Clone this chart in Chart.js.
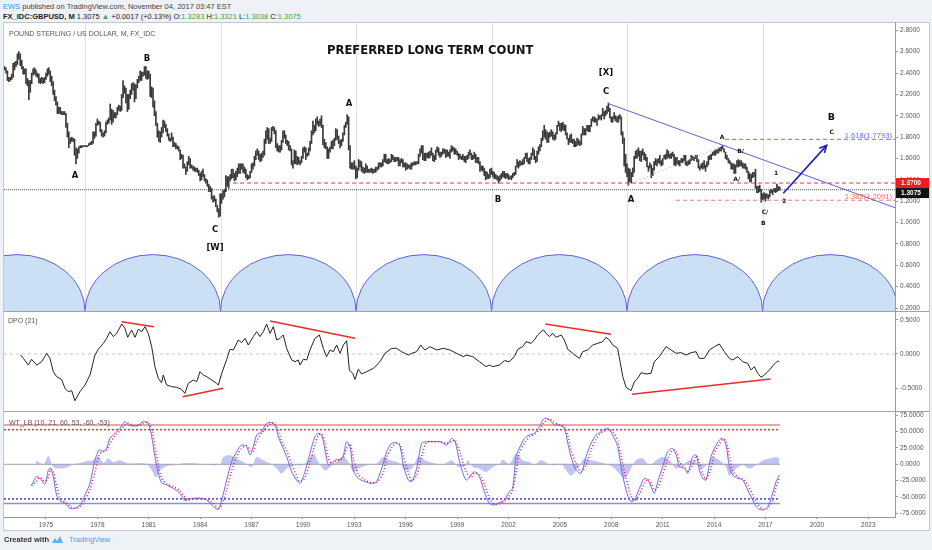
<!DOCTYPE html>
<html>
<head>
<meta charset="utf-8">
<script src="https://cdn.jsdelivr.net/npm/chart.js@4.4.1/dist/chart.umd.min.js"></script>
<style>
  body { margin: 0; width: 932px; height: 550px; background: #eef1f6; position: relative; overflow: hidden;
         font-family: "Liberation Sans", Arial, sans-serif; }
  .abs { position: absolute; white-space: nowrap; }
  .g { color: #3aa64a; }
  #frame { left: 3px; top: 22px; width: 925px; height: 507px; background: #fff; border: 1px solid #c4c7cc; }
  canvas { position: absolute; }
  .sep { position: absolute; left: 4px; width: 925px; height: 1px; background: #a3a3a3; }
</style>
</head>
<body>
<div class="abs" style="left:3px;top:2px;font-size:7.5px;color:#444"><span style="color:#2f9ad8">EWS</span> published on TradingView.com, November 04, 2017 03:47 EST</div>
<div class="abs" style="left:3px;top:12px;font-size:7.5px;color:#222"><b>FX_IDC:GBPUSD, M</b> 1.3075 <span class="g">&#9650;</span> +0.0017 (+0.13%) O:<span class="g">1.3283</span> H:<span class="g">1.3321</span> L:<span class="g">1.3038</span> C:<span class="g">1.3075</span></div>
<div id="frame" class="abs"></div>
<canvas id="mainChart" width="925" height="289" style="left:4px;top:22px;width:925px;height:289px"></canvas>
<canvas id="dpoChart" width="925" height="100" style="left:4px;top:311px;width:925px;height:100px"></canvas>
<canvas id="wtChart" width="925" height="119" style="left:4px;top:411px;width:925px;height:119px"></canvas>
<div class="sep" style="top:311px"></div>
<div class="sep" style="top:411px"></div>
<div class="abs" style="left:9px;top:30px;font-size:7px;color:#555">POUND STERLING / US DOLLAR, M, FX_IDC</div>
<div class="abs" style="left:327px;top:43px;font-family:'DejaVu Sans',sans-serif;font-weight:bold;font-size:11.6px;color:#111">PREFERRED LONG TERM COUNT</div>
<div class="abs" style="left:8px;top:317px;font-size:7px;color:#555">DPO (21)</div>
<div class="abs" style="left:9px;top:419px;font-size:7px;color:#555">WT_LB (10, 21, 60, 53, -60, -53)</div>
<div class="abs" style="left:4px;top:535px;font-size:7.5px;color:#333;font-weight:bold">Created with</div>
<svg class="abs" style="left:51px;top:535px" width="13" height="9" viewBox="0 0 13 9"><path d="M1 8 L4 3 L6 6 L9 1 L12 8 Z" fill="#5db3e6"/></svg>
<div class="abs" style="left:69px;top:535px;font-size:7.5px;color:#4aa3df">TradingView</div>

<script>
// ---- axes ----
const X_MIN = 1972.55;
const X_MAX = 2024.56;
const AXIS_W = 34;
const yearTicks = [1975, 1978, 1981, 1984, 1987, 1990, 1993, 1996, 1999, 2002, 2005, 2008, 2011, 2014, 2017, 2020, 2023];
const priceTicks = [2.8, 2.6, 2.4, 2.2, 2.0, 1.8, 1.6, 1.4, 1.2, 1.0, 0.8, 0.6, 0.4, 0.2];
const dpoTicks = [0.5, 0, -0.5];
const wtTicks = [75, 50, 25, 0, -25, -50, -75];

// ---- monthly GBPUSD bars, first bar July 1972 ----
const priceStart = 1972.5;
const priceLow = [
  2.43,2.43,2.40,2.33,2.32,2.33,
  2.34,2.36,2.43,2.46,2.48,2.53,2.47,2.44,2.39,2.39,2.30,2.28,
  2.15,2.22,2.30,2.38,2.39,2.37,2.36,2.31,2.30,2.31,2.30,2.31,
  2.34,2.37,2.39,2.32,2.28,2.20,2.14,2.10,2.02,2.02,2.02,2.01,
  2.01,2.01,1.89,1.80,1.70,1.74,1.76,1.76,1.63,1.55,1.60,1.65,
  1.70,1.70,1.71,1.71,1.71,1.71,1.72,1.73,1.73,1.74,1.79,1.81,
  1.91,1.92,1.85,1.81,1.80,1.81,1.84,1.92,1.93,1.96,1.92,1.94,
  1.98,1.98,2.01,2.05,2.04,2.05,2.17,2.21,2.12,2.04,2.06,2.16,
  2.20,2.24,2.13,2.16,2.26,2.31,2.33,2.33,2.37,2.38,2.35,2.34,
  2.35,2.18,2.17,2.08,2.00,1.91,1.80,1.76,1.75,1.80,1.84,1.89,
  1.85,1.81,1.77,1.76,1.77,1.71,1.71,1.69,1.69,1.67,1.59,1.60,
  1.51,1.51,1.45,1.48,1.54,1.51,1.51,1.49,1.48,1.48,1.47,1.44,
  1.39,1.40,1.43,1.39,1.37,1.34,1.29,1.29,1.22,1.19,1.20,1.15,
  1.10,1.05,1.06,1.18,1.22,1.24,1.29,1.34,1.32,1.39,1.41,1.42,
  1.39,1.40,1.43,1.46,1.46,1.50,1.47,1.46,1.42,1.40,1.41,1.42,
  1.47,1.50,1.53,1.59,1.63,1.59,1.57,1.58,1.61,1.63,1.74,1.78,
  1.74,1.74,1.76,1.86,1.83,1.70,1.67,1.66,1.66,1.68,1.75,1.79,
  1.74,1.72,1.68,1.67,1.54,1.51,1.55,1.55,1.54,1.55,1.54,1.56,
  1.60,1.66,1.59,1.62,1.63,1.67,1.74,1.82,1.84,1.86,1.92,1.90,
  1.91,1.89,1.73,1.70,1.69,1.60,1.60,1.66,1.69,1.69,1.72,1.77,
  1.78,1.74,1.70,1.72,1.76,1.82,1.89,1.92,1.68,1.51,1.50,1.50,
  1.50,1.41,1.42,1.49,1.52,1.48,1.47,1.46,1.47,1.47,1.47,1.47,
  1.47,1.46,1.47,1.47,1.49,1.50,1.52,1.52,1.53,1.57,1.56,1.55,
  1.55,1.56,1.57,1.59,1.57,1.57,1.58,1.53,1.53,1.56,1.52,1.52,
  1.49,1.50,1.51,1.50,1.50,1.53,1.54,1.54,1.55,1.55,1.62,1.65,
  1.59,1.58,1.58,1.61,1.60,1.61,1.63,1.58,1.57,1.59,1.66,1.63,
  1.61,1.62,1.64,1.65,1.61,1.62,1.62,1.60,1.66,1.67,1.64,1.64,
  1.63,1.59,1.60,1.59,1.59,1.57,1.56,1.59,1.60,1.63,1.59,1.59,
  1.60,1.56,1.56,1.55,1.48,1.49,1.48,1.44,1.40,1.41,1.41,1.42,
  1.45,1.43,1.41,1.41,1.40,1.37,1.39,1.41,1.43,1.42,1.41,1.42,
  1.40,1.41,1.40,1.42,1.44,1.45,1.52,1.51,1.53,1.54,1.54,1.55,
  1.60,1.57,1.55,1.55,1.59,1.63,1.59,1.56,1.57,1.64,1.67,1.71,
  1.77,1.80,1.78,1.75,1.75,1.80,1.81,1.78,1.77,1.78,1.83,1.90,
  1.86,1.85,1.87,1.86,1.82,1.78,1.73,1.75,1.75,1.74,1.71,1.71,
  1.72,1.73,1.72,1.73,1.82,1.82,1.82,1.86,1.85,1.85,1.90,1.95,
  1.94,1.94,1.91,1.96,1.97,1.96,2.00,1.97,2.00,2.02,2.04,1.98,
  1.94,1.94,1.97,1.95,1.94,1.94,1.97,1.82,1.74,1.53,1.47,1.43,
  1.35,1.38,1.37,1.43,1.47,1.60,1.60,1.62,1.58,1.57,1.63,1.59,
  1.58,1.52,1.48,1.51,1.42,1.44,1.49,1.54,1.53,1.56,1.55,1.53,
  1.54,1.60,1.59,1.60,1.61,1.60,1.60,1.62,1.54,1.53,1.55,1.54,
  1.53,1.56,1.56,1.58,1.54,1.53,1.54,1.55,1.58,1.59,1.58,1.60,
  1.57,1.51,1.49,1.51,1.50,1.51,1.48,1.52,1.54,1.59,1.59,1.63,
  1.63,1.63,1.65,1.65,1.67,1.67,1.69,1.66,1.60,1.59,1.56,1.55,
  1.50,1.50,1.46,1.46,1.52,1.52,1.53,1.53,1.51,1.51,1.50,1.47,
  1.41,1.38,1.38,1.42,1.43,1.32,1.28,1.28,1.29,1.19,1.21,1.22,
  1.20,1.23,1.22,1.24,1.28,1.26,1.29,1.28,1.29,1.30,1.304
];
const priceHigh = [
  2.46,2.46,2.45,2.42,2.36,2.36,
  2.39,2.49,2.50,2.51,2.58,2.60,2.58,2.52,2.46,2.44,2.44,2.35,
  2.33,2.33,2.40,2.44,2.45,2.43,2.40,2.39,2.35,2.36,2.35,2.36,
  2.40,2.44,2.45,2.42,2.37,2.32,2.24,2.18,2.13,2.08,2.08,2.04,
  2.04,2.04,2.02,1.93,1.85,1.79,1.80,1.79,1.78,1.70,1.69,1.71,
  1.72,1.72,1.72,1.72,1.72,1.72,1.74,1.75,1.76,1.85,1.85,1.93,
  1.97,1.95,1.94,1.87,1.84,1.86,1.94,1.96,1.98,2.11,2.06,2.05,
  2.03,2.03,2.08,2.10,2.09,2.20,2.33,2.28,2.26,2.20,2.20,2.24,
  2.30,2.31,2.30,2.29,2.34,2.37,2.42,2.41,2.41,2.46,2.46,2.42,
  2.42,2.39,2.27,2.26,2.14,2.04,1.93,1.86,1.85,1.89,1.96,1.95,
  1.92,1.88,1.83,1.79,1.84,1.80,1.75,1.74,1.72,1.71,1.68,1.64,
  1.63,1.55,1.52,1.57,1.62,1.60,1.54,1.53,1.52,1.51,1.51,1.49,
  1.46,1.48,1.50,1.45,1.41,1.40,1.36,1.34,1.32,1.25,1.25,1.22,
  1.16,1.13,1.27,1.27,1.30,1.31,1.44,1.43,1.43,1.45,1.50,1.50,
  1.46,1.48,1.51,1.55,1.55,1.55,1.55,1.52,1.50,1.45,1.44,1.48,
  1.55,1.56,1.62,1.67,1.69,1.67,1.64,1.65,1.67,1.78,1.86,1.89,
  1.88,1.79,1.89,1.90,1.89,1.86,1.74,1.72,1.72,1.77,1.86,1.86,
  1.82,1.77,1.76,1.72,1.69,1.58,1.68,1.67,1.62,1.61,1.58,1.62,
  1.70,1.71,1.70,1.65,1.70,1.76,1.86,1.95,1.91,1.97,1.99,1.95,
  1.97,2.00,1.91,1.78,1.75,1.71,1.69,1.71,1.76,1.77,1.79,1.88,
  1.87,1.81,1.77,1.78,1.84,1.91,1.94,2.01,1.99,1.72,1.56,1.56,
  1.58,1.53,1.51,1.59,1.58,1.57,1.52,1.51,1.55,1.53,1.50,1.50,
  1.51,1.50,1.50,1.52,1.52,1.56,1.56,1.56,1.59,1.64,1.64,1.59,
  1.60,1.59,1.64,1.63,1.61,1.61,1.61,1.61,1.59,1.60,1.59,1.56,
  1.56,1.55,1.54,1.54,1.56,1.56,1.57,1.57,1.57,1.64,1.69,1.72,
  1.72,1.65,1.65,1.65,1.66,1.67,1.70,1.65,1.63,1.68,1.71,1.70,
  1.66,1.66,1.69,1.69,1.68,1.68,1.66,1.68,1.72,1.71,1.70,1.69,
  1.67,1.65,1.64,1.62,1.64,1.62,1.62,1.63,1.66,1.68,1.65,1.63,
  1.66,1.64,1.61,1.61,1.57,1.53,1.53,1.51,1.48,1.47,1.45,1.50,
  1.51,1.48,1.47,1.45,1.44,1.43,1.44,1.46,1.48,1.48,1.46,1.46,
  1.45,1.43,1.44,1.46,1.47,1.53,1.59,1.57,1.58,1.57,1.59,1.61,
  1.65,1.65,1.60,1.61,1.65,1.70,1.68,1.62,1.67,1.71,1.73,1.79,
  1.86,1.91,1.87,1.85,1.84,1.85,1.87,1.85,1.82,1.84,1.91,1.95,
  1.93,1.93,1.94,1.92,1.91,1.84,1.79,1.82,1.83,1.78,1.78,1.76,
  1.79,1.78,1.76,1.83,1.90,1.88,1.88,1.91,1.91,1.91,1.97,1.99,
  1.99,1.98,1.97,2.01,2.00,2.01,2.07,2.04,2.05,2.09,2.12,2.07,
  1.99,1.99,2.03,2.00,1.99,2.00,2.01,1.99,1.85,1.79,1.64,1.55,
  1.51,1.50,1.47,1.51,1.62,1.67,1.68,1.70,1.67,1.67,1.69,1.66,
  1.64,1.61,1.53,1.56,1.54,1.51,1.57,1.60,1.59,1.60,1.63,1.58,
  1.60,1.63,1.64,1.68,1.67,1.64,1.65,1.66,1.64,1.61,1.61,1.58,
  1.58,1.60,1.60,1.63,1.63,1.57,1.58,1.59,1.63,1.62,1.61,1.63,
  1.63,1.59,1.53,1.55,1.56,1.58,1.54,1.57,1.62,1.63,1.64,1.66,
  1.67,1.68,1.68,1.69,1.70,1.71,1.72,1.69,1.66,1.63,1.60,1.58,
  1.56,1.55,1.55,1.54,1.58,1.59,1.58,1.58,1.56,1.55,1.55,1.52,
  1.48,1.46,1.45,1.47,1.47,1.50,1.34,1.34,1.35,1.31,1.27,1.28,
  1.27,1.27,1.26,1.30,1.31,1.30,1.32,1.32,1.36,1.34,1.332
];
const lastClose = 1.3075;
const resistanceLevel = 1.37;
const resistanceFrom = 1985.92;

// ---- drawings on the price pane ----
const cycleDates = [1969.37, 1977.28, 1985.19, 1993.10, 2001.01, 2008.92, 2016.83, 2024.74];
const cycleTop = 0.70;
const trendLine = [[2007.81, 2.115], [2024.56, 1.139]];
const arrowLine = [[2018.04, 1.275], [2020.57, 1.723]];
const fibBaseLine = [[2008.99, 1.357], [2014.44, 1.714]];
const fibUpper = [2014.64, 1.7793, '1.618(1.7793)'];
const fibLower = [2011.78, 1.2091, '1.382(1.2091)'];
const waveText = ['A', 'B', 'C', '[W]', 'A', 'B', '[X]', 'C', 'A', 'A', 'B/', 'A/', 'C/', 'B', '1', '2', 'B', 'C'];
const waveDate = [1976.69, 1980.90, 1984.87, 1984.87, 1992.69, 2001.39, 2007.69, 2007.69, 2009.15, 2014.46, 2015.55, 2015.32, 2016.97, 2016.87, 2017.62, 2018.10, 2020.84, 2020.86];
const wavePrice = [1.441, 2.531, 0.936, 0.767, 2.108, 1.216, 2.399, 2.220, 1.216, 1.798, 1.664, 1.407, 1.097, 0.988, 1.457, 1.200, 1.983, 1.848];
const waveDegree = ['major', 'major', 'major', 'major', 'major', 'major', 'major', 'major', 'major', 'minor', 'minor', 'minor', 'minor', 'minor', 'minor', 'minor', 'big', 'minor'];

// ---- DPO(21) ----
const dpoDates = [1973.52,1973.68,1973.97,1974.16,1974.46,1974.75,1975.04,1975.23,1975.43,1975.62,1975.91,1976.11,1976.30,1976.50,1976.69,1976.98,1977.28,1977.57,1977.86,1978.05,1978.35,1978.54,1978.74,1978.93,1979.13,1979.42,1979.61,1979.77,1980.00,1980.20,1980.39,1980.59,1980.78,1980.97,1981.17,1981.36,1981.56,1981.75,1981.85,1982.04,1982.34,1982.63,1982.92,1983.11,1983.31,1983.60,1983.80,1983.99,1984.18,1984.38,1984.67,1984.96,1985.06,1985.26,1985.55,1985.74,1985.94,1986.23,1986.42,1986.62,1986.81,1987.10,1987.30,1987.49,1987.69,1987.88,1988.08,1988.27,1988.47,1988.66,1988.85,1989.05,1989.34,1989.54,1989.73,1989.83,1990.02,1990.22,1990.41,1990.70,1990.96,1991.19,1991.38,1991.58,1991.77,1991.97,1992.16,1992.36,1992.55,1992.71,1992.90,1993.04,1993.23,1993.43,1993.72,1994.11,1994.50,1994.79,1995.18,1995.47,1995.76,1996.15,1996.35,1996.64,1996.87,1997.12,1997.42,1997.81,1998.19,1998.58,1998.97,1999.36,1999.52,1999.91,2000.30,2000.69,2000.88,2001.08,2001.47,2001.76,2002.05,2002.34,2002.54,2002.83,2003.02,2003.31,2003.51,2003.70,2003.90,2004.05,2004.19,2004.39,2004.58,2004.77,2005.07,2005.26,2005.46,2005.75,2005.94,2006.14,2006.33,2006.62,2006.91,2007.21,2007.50,2007.69,2007.89,2008.08,2008.37,2008.51,2008.67,2008.86,2009.15,2009.35,2009.54,2009.74,2010.03,2010.32,2010.51,2010.81,2011.00,2011.20,2011.49,2011.78,2012.07,2012.36,2012.66,2012.95,2013.14,2013.43,2013.73,2014.02,2014.31,2014.60,2014.89,2015.09,2015.38,2015.67,2015.96,2016.16,2016.35,2016.55,2016.74,2016.94,2017.23,2017.52,2017.71,2017.81];
const dpoValues = [-0.015,-0.064,-0.162,-0.078,-0.162,-0.113,0.010,-0.064,-0.260,-0.333,-0.373,-0.505,-0.554,-0.539,-0.686,-0.554,-0.456,-0.309,-0.015,0.069,0.157,0.230,0.328,0.255,0.304,0.441,0.377,0.245,0.353,0.245,0.363,0.328,0.402,0.304,0.108,-0.186,-0.358,-0.422,-0.309,-0.456,-0.480,-0.490,-0.520,-0.579,-0.431,-0.382,-0.407,-0.260,-0.309,-0.333,-0.382,-0.431,-0.456,-0.284,-0.078,0.069,0.059,0.206,0.167,0.230,0.132,0.255,0.328,0.255,0.328,0.441,0.304,0.402,0.206,0.230,0.279,0.083,-0.088,-0.113,-0.088,-0.162,-0.078,-0.088,0.059,0.230,0.279,0.083,-0.039,0.059,0.034,0.132,0.010,0.132,0.196,-0.235,-0.284,-0.373,-0.225,-0.294,-0.260,-0.211,-0.113,0.010,0.083,0.083,0.034,-0.015,0.010,0.034,0.132,0.059,0.108,0.059,0.083,0.059,0.010,-0.039,-0.015,-0.039,-0.113,-0.186,-0.162,-0.186,-0.162,-0.098,-0.113,-0.039,0.069,0.108,0.181,0.157,0.206,0.279,0.328,0.353,0.304,0.255,0.304,0.245,0.279,0.206,0.069,0.010,-0.029,-0.064,0.034,0.059,0.132,0.157,0.181,0.245,0.206,0.132,0.083,-0.113,-0.333,-0.490,-0.539,-0.407,-0.358,-0.275,-0.294,-0.284,-0.113,-0.039,0.034,0.108,0.059,0.010,0.020,-0.015,0.020,0.034,-0.064,-0.064,0.059,0.108,0.147,0.034,-0.064,-0.088,-0.039,-0.113,-0.137,-0.235,-0.186,-0.284,-0.343,-0.309,-0.235,-0.147,-0.103,-0.113];
const dpoDivergences = [
  [[1979.42, 0.475], [1981.30, 0.402]],
  [[1982.98, -0.627], [1985.35, -0.505]],
  [[1988.08, 0.485], [1993.04, 0.230]],
  [[2004.15, 0.441], [2007.98, 0.289]],
  [[2009.21, -0.593], [2017.29, -0.368]]
];

// ---- WT_LB (10, 21, 60, 53, -60, -53) ----
const wtDates = [1974.16,1974.46,1974.65,1974.94,1975.14,1975.27,1975.43,1975.62,1975.82,1976.11,1976.40,1976.69,1976.99,1977.28,1977.57,1977.86,1978.11,1978.35,1978.54,1978.74,1979.03,1979.32,1979.61,1979.81,1980.10,1980.39,1980.68,1980.97,1981.17,1981.36,1981.56,1981.75,1982.04,1982.43,1982.82,1983.11,1983.31,1983.60,1983.99,1984.38,1984.77,1985.06,1985.26,1985.55,1985.84,1986.13,1986.42,1986.71,1986.91,1987.10,1987.30,1987.59,1987.88,1988.17,1988.37,1988.56,1988.76,1989.05,1989.34,1989.63,1989.83,1990.12,1990.41,1990.70,1990.90,1991.09,1991.29,1991.48,1991.68,1991.97,1992.16,1992.36,1992.55,1992.75,1992.94,1993.23,1993.62,1994.01,1994.30,1994.69,1994.89,1995.18,1995.47,1995.67,1995.86,1996.15,1996.35,1996.64,1996.93,1997.22,1997.61,1998.00,1998.39,1998.68,1998.88,1999.17,1999.52,1999.81,2000.01,2000.30,2000.59,2000.88,2001.17,2001.47,2001.76,2002.05,2002.24,2002.44,2002.63,2002.93,2003.22,2003.51,2003.80,2004.09,2004.39,2004.68,2004.97,2005.26,2005.46,2005.65,2005.94,2006.23,2006.53,2006.82,2007.11,2007.40,2007.79,2008.08,2008.37,2008.57,2008.86,2009.15,2009.35,2009.64,2009.93,2010.13,2010.32,2010.51,2010.71,2011.00,2011.29,2011.58,2011.82,2011.97,2012.27,2012.46,2012.75,2012.95,2013.14,2013.34,2013.53,2013.82,2014.02,2014.31,2014.50,2014.70,2014.89,2015.09,2015.38,2015.67,2015.96,2016.25,2016.55,2016.84,2017.13,2017.42,2017.62,2017.81];
const wt1 = [-31.7,-18.9,-21.5,-30.2,-8.7,-6.2,-18.9,-47.0,-55.7,-59.7,-67.4,-67.4,-62.3,-47.0,-29.1,6.6,21.9,19.3,24.4,39.8,47.4,55.1,65.3,60.2,58.6,60.2,65.3,62.7,42.3,11.7,-13.8,-28.1,-31.7,-36.8,-44.4,-55.7,-53.6,-52.1,-52.1,-54.6,-64.9,-68.9,-54.6,-24.0,4.0,19.3,29.5,27.0,14.2,27.0,44.8,49.9,62.7,63.7,60.2,42.3,29.5,11.7,-11.3,-24.0,-29.1,-11.3,16.8,42.3,47.4,44.8,21.9,-1.1,2.5,7.6,6.6,14.2,34.6,27.0,-8.7,-21.5,-26.6,-29.1,-26.6,1.5,19.3,32.1,33.1,27.0,-1.1,-24.0,-26.6,-6.2,32.1,34.6,34.6,34.6,29.5,39.8,34.6,1.5,-24.0,-16.4,-11.3,-18.9,-41.9,-59.7,-62.3,-58.7,-54.6,-41.9,-36.8,11.7,24.4,39.8,44.8,47.4,57.6,70.4,67.8,60.2,60.2,55.1,32.1,11.7,-8.7,-13.8,11.7,32.1,44.8,49.9,55.1,44.8,27.0,-3.6,-39.3,-57.1,-54.6,-36.8,-21.5,-24.0,-34.2,-44.4,-26.6,-3.6,19.3,24.4,11.7,-3.6,-6.2,-13.8,11.7,14.2,-8.7,-21.5,-24.0,11.7,24.4,37.2,39.8,29.5,-3.6,-16.4,-21.5,-24.0,-39.3,-54.6,-67.4,-70.0,-64.9,-44.4,-26.6,-16.4];
const wt2 = [-33.0,-25.3,-20.2,-25.9,-19.5,-7.5,-12.6,-33.0,-51.4,-57.7,-63.6,-67.4,-64.9,-54.7,-38.1,-11.3,14.3,20.6,21.9,32.1,43.6,51.3,60.2,62.8,59.4,59.4,62.8,64.0,52.5,27.0,-1.1,-21.0,-29.9,-34.3,-40.6,-50.1,-54.7,-52.9,-52.1,-53.4,-59.8,-66.9,-61.8,-39.3,-10.0,11.7,24.4,28.3,20.6,20.6,35.9,47.4,56.3,63.2,62.0,51.3,35.9,20.6,0.2,-17.7,-26.6,-20.2,2.8,29.6,44.9,46.1,33.4,10.4,0.7,5.1,7.1,10.4,24.4,30.8,9.2,-15.1,-24.1,-27.9,-27.9,-12.6,10.4,25.7,32.6,30.1,13.0,-12.6,-25.3,-16.4,13.0,33.4,34.6,34.6,32.1,34.7,37.2,18.1,-11.3,-20.2,-13.9,-15.1,-30.4,-50.8,-61.0,-60.5,-56.7,-48.3,-39.4,-12.6,18.1,32.1,42.3,46.1,52.5,64.0,69.1,64.0,60.2,57.7,43.6,21.9,1.5,-11.3,-1.1,21.9,38.5,47.4,52.5,50.0,35.9,11.7,-21.5,-48.2,-55.9,-45.7,-29.2,-22.8,-29.1,-39.3,-35.5,-15.1,7.9,21.9,18.1,4.1,-4.9,-10.0,-1.1,13.0,2.8,-15.1,-22.8,-6.2,18.1,30.8,38.5,34.7,13.0,-10.0,-19.0,-22.8,-31.7,-47.0,-61.0,-68.7,-67.5,-54.7,-35.5,-21.5];
const histDates = [1974.42,1974.85,1975.14,1975.43,1975.82,1976.21,1976.60,1976.99,1977.37,1977.76,1978.06,1978.35,1978.64,1978.93,1979.32,1979.71,1980.10,1980.49,1980.88,1981.17,1981.42,1981.66,1982.04,1982.43,1983.21,1983.99,1984.77,1985.16,1985.35,1985.74,1986.13,1986.62,1987.01,1987.30,1987.69,1988.17,1988.47,1988.76,1989.05,1989.44,1989.93,1990.31,1990.61,1990.90,1991.29,1991.58,1991.97,1992.36,1992.65,1992.94,1993.23,1993.72,1994.30,1994.69,1994.98,1995.28,1995.67,1995.96,1996.35,1996.74,1997.13,1997.61,1998.20,1998.68,1999.07,1999.46,1999.62,1999.91,2000.30,2000.69,2001.08,2001.47,2001.66,2002.05,2002.44,2002.83,2003.22,2003.51,2003.90,2004.29,2004.68,2005.07,2005.36,2005.65,2006.04,2006.43,2006.82,2007.30,2007.69,2008.08,2008.47,2008.76,2009.05,2009.44,2009.83,2010.22,2010.61,2011.00,2011.39,2011.78,2012.17,2012.56,2012.95,2013.24,2013.63,2013.92,2014.31,2014.70,2014.89,2015.28,2015.67,2016.06,2016.45,2016.84,2017.23,2017.62,2017.81];
const histValues = [6.1,0,12.2,-4.1,-6.6,-5.1,0,2.0,5.1,6.1,12.2,2.0,8.7,3.6,6.1,2.0,1.0,2.0,0,-9.2,-19.4,-9.2,-3.1,-1.5,2.0,1.0,-1.5,0,11.2,13.8,8.7,2.0,-4.1,11.2,6.1,0,-6.6,-14.3,-6.6,-1.5,-1.5,6.1,16.3,3.6,-9.2,-4.1,3.6,11.2,3.6,-11.7,-6.6,-1.5,1.0,11.2,7.1,5.1,1.0,-9.2,-6.6,11.2,6.1,2.0,0,6.1,-4.1,-2.0,6.1,-4.1,-6.6,-11.7,-4.1,0,7.1,1.0,16.3,6.1,3.6,-1.5,6.1,1.0,-1.5,1.0,-9.2,-17.3,-6.6,8.7,6.1,3.6,1.0,-4.1,-14.3,-21.9,-11.7,6.1,8.7,-1.5,6.1,11.2,6.1,-6.6,-1.5,6.1,3.6,-6.6,1.0,11.2,6.1,-4.1,-17.3,-6.6,-1.5,-6.6,-1.5,6.1,8.7,11.2,8.7];
const wtLevels = [60, 53, -53, -60];
const wtEnd = 2017.85;

// ---- helpers ----
Chart.defaults.font.family = '"Liberation Sans", Arial, sans-serif';
const pts = (xs, ys) => xs.map((x, i) => ({x: x, y: ys[i]}));
const seg = pair => pair.map(p => ({x: p[0], y: p[1]}));

function rightAxis(min, max, ticks) {
  return {
    position: 'right', min: min, max: max,
    afterBuildTicks: s => { s.ticks = ticks.map(v => ({value: v})); },
    afterFit: s => { s.width = AXIS_W; s.paddingTop = 0; s.paddingBottom = 0; },
    grid: {drawOnChartArea: false, tickLength: 3, color: '#999'},
    border: {display: true, color: '#999'},
    ticks: {autoSkip: false, font: {size: 6.5}, color: '#555', padding: 2,
            callback: v => Number(v).toFixed(4)}
  };
}
function hiddenX() {
  return {type: 'linear', min: X_MIN, max: X_MAX, display: false, offset: false};
}
function lineDs(data, color, width, dash, order) {
  return {type: 'line', data: data, borderColor: color, borderWidth: width, borderDash: dash || [],
          pointRadius: 0, fill: false, tension: 0, order: order};
}
const baseOpts = {
  responsive: false, animation: false, events: [],
  layout: {padding: 0},
  plugins: {legend: {display: false}, tooltip: {enabled: false}}
};

// ---- price pane ----
const waveFont = {major: 'bold 8.5px "DejaVu Sans"', minor: 'bold 6px "DejaVu Sans"', big: 'bold 9.5px "DejaVu Sans"'};
const pricePaneDecor = {
  id: 'pricePaneDecor',
  beforeDatasetsDraw(chart) {
    const {ctx, chartArea: a, scales: {x, y}} = chart;
    ctx.save();
    ctx.beginPath(); ctx.rect(a.left, a.top, a.width, a.height); ctx.clip();
    ctx.strokeStyle = '#e2e2e2'; ctx.lineWidth = 1;
    cycleDates.forEach(d => {
      const px = Math.round(x.getPixelForValue(d)) + 0.5;
      ctx.beginPath(); ctx.moveTo(px, a.top); ctx.lineTo(px, a.bottom); ctx.stroke();
    });
    const base = y.getPixelForValue(y.min), top = y.getPixelForValue(cycleTop);
    for (let i = 0; i < cycleDates.length - 1; i++) {
      const x0 = x.getPixelForValue(cycleDates[i]), x1 = x.getPixelForValue(cycleDates[i + 1]);
      ctx.beginPath();
      ctx.ellipse((x0 + x1) / 2, base, (x1 - x0) / 2, base - top, 0, Math.PI, 2 * Math.PI);
      ctx.closePath();
      ctx.fillStyle = 'rgba(200,222,243,0.95)'; ctx.fill();
      ctx.beginPath();
      ctx.ellipse((x0 + x1) / 2, base, (x1 - x0) / 2, base - top, 0, Math.PI, 2 * Math.PI);
      ctx.strokeStyle = '#5f5fdc'; ctx.lineWidth = 1; ctx.stroke();
    }
    ctx.restore();
  },
  afterDatasetsDraw(chart) {
    const {ctx, chartArea: a, scales: {x, y}} = chart;
    ctx.save();
    ctx.textAlign = 'center'; ctx.textBaseline = 'middle'; ctx.fillStyle = '#111';
    waveText.forEach((t, i) => {
      ctx.font = waveFont[waveDegree[i]];
      ctx.fillText(t, x.getPixelForValue(waveDate[i]), y.getPixelForValue(wavePrice[i]));
    });
    // arrow head
    const p0 = {x: x.getPixelForValue(arrowLine[0][0]), y: y.getPixelForValue(arrowLine[0][1])};
    const p1 = {x: x.getPixelForValue(arrowLine[1][0]), y: y.getPixelForValue(arrowLine[1][1])};
    const ang = Math.atan2(p1.y - p0.y, p1.x - p0.x);
    ctx.strokeStyle = '#1b1bc4'; ctx.lineWidth = 1.6;
    ctx.beginPath();
    ctx.moveTo(p1.x - 8 * Math.cos(ang - 0.45), p1.y - 8 * Math.sin(ang - 0.45));
    ctx.lineTo(p1.x, p1.y);
    ctx.lineTo(p1.x - 8 * Math.cos(ang + 0.45), p1.y - 8 * Math.sin(ang + 0.45));
    ctx.stroke();
    // fib texts
    ctx.font = '7.6px "Liberation Sans"'; ctx.textAlign = 'right'; ctx.textBaseline = 'alphabetic';
    ctx.fillStyle = '#6b6bf0';
    ctx.fillText(fibUpper[2], a.right - 3, y.getPixelForValue(fibUpper[1]) - 1);
    ctx.fillStyle = '#e07070';
    ctx.fillText(fibLower[2], a.right - 3, y.getPixelForValue(fibLower[1]) - 1);
    ctx.restore();
  },
  afterDraw(chart) {
    const {ctx, chartArea: a, scales: {y}} = chart;
    const redY = y.getPixelForValue(resistanceLevel);
    const lastY = Math.max(y.getPixelForValue(lastClose), redY + 10);
    ctx.save();
    ctx.font = 'bold 6.5px "Liberation Sans"'; ctx.textBaseline = 'middle'; ctx.textAlign = 'left';
    ctx.fillStyle = '#f21b1b'; ctx.fillRect(a.right + 1, redY - 5, AXIS_W - 1, 10);
    ctx.fillStyle = '#fff'; ctx.fillText(resistanceLevel.toFixed(4), a.right + 6, redY);
    ctx.fillStyle = '#111'; ctx.fillRect(a.right + 1, lastY - 5, AXIS_W - 1, 10);
    ctx.fillStyle = '#fff'; ctx.fillText(lastClose.toFixed(4), a.right + 6, lastY);
    ctx.restore();
  }
};

new Chart(document.getElementById('mainChart'), {
  type: 'bar',
  data: {
    datasets: [
      lineDs(seg(arrowLine), '#1b1bc4', 1.6, null, 1),
      lineDs(seg(trendLine), '#6060dc', 1, null, 2),
      lineDs([{x: fibUpper[0], y: fibUpper[1]}, {x: X_MAX, y: fibUpper[1]}], '#7070f0', 1, [4, 3], 3),
      lineDs([{x: fibLower[0], y: fibLower[1]}, {x: X_MAX, y: fibLower[1]}], '#e58080', 1, [4, 3], 3),
      lineDs(seg(fibBaseLine), 'rgba(220,150,150,0.6)', 1, [2, 2], 3),
      lineDs([{x: resistanceFrom, y: resistanceLevel}, {x: X_MAX, y: resistanceLevel}], '#e8383d', 1, [4, 3], 4),
      lineDs([{x: X_MIN, y: lastClose}, {x: X_MAX, y: lastClose}], '#555', 1, [1, 1], 6),
      {
        type: 'bar', order: 5, grouped: false, barThickness: 1, borderWidth: 0, backgroundColor: '#3a3a3a',
        data: priceLow.map((lo, i) => ({x: priceStart + i / 12, y: [lo, priceHigh[i]]}))
      }
    ]
  },
  options: Object.assign({}, baseOpts, {
    scales: {x: hiddenX(), y: rightAxis(0.172, 2.878, priceTicks)}
  }),
  plugins: [pricePaneDecor]
});

// ---- DPO pane ----
const dpoSets = [lineDs(pts(dpoDates, dpoValues), '#222', 1, null, 2)];
dpoDivergences.forEach(d => dpoSets.push(lineDs(seg(d), '#ec2a2a', 1.5, null, 1)));
dpoSets.push(lineDs([{x: X_MIN, y: 0}, {x: X_MAX, y: 0}], '#c8c8c8', 1, [3, 3], 3));
new Chart(document.getElementById('dpoChart'), {
  type: 'line',
  data: {datasets: dpoSets},
  options: Object.assign({}, baseOpts, {
    scales: {x: hiddenX(), y: rightAxis(-0.838, 0.632, dpoTicks)}
  })
});

// ---- WT pane with the time axis ----
const levelColor = ['rgba(232,90,90,0.55)', '#e0344a', '#3f3fd8', 'rgba(100,100,225,0.75)'];
const levelWidth = [2, 1.5, 1.5, 1.5];
const levelDash = [null, [2, 2], [2, 2], null];
const wtSets = [
  Object.assign(lineDs(pts(wtDates, wt2), '#e3245a', 1.6, [1, 2.2], 1), {tension: 0.3}),
  Object.assign(lineDs(pts(wtDates, wt1), '#6a6aea', 1, null, 2), {tension: 0.3}),
  {type: 'line', order: 6, data: pts(histDates, histValues), borderWidth: 0, pointRadius: 0,
   fill: 'origin', backgroundColor: 'rgba(135,135,235,0.5)', tension: 0.35},
  lineDs([{x: X_MIN, y: 0}, {x: wtEnd, y: 0}], '#a0a0b0', 1, null, 5)
];
wtLevels.forEach((lv, i) => wtSets.push(lineDs([{x: X_MIN, y: lv}, {x: wtEnd, y: lv}], levelColor[i], levelWidth[i], levelDash[i], 4)));
new Chart(document.getElementById('wtChart'), {
  type: 'line',
  data: {datasets: wtSets},
  options: Object.assign({}, baseOpts, {
    scales: {
      x: {
        type: 'linear', min: X_MIN, max: X_MAX, offset: false, position: 'bottom',
        afterBuildTicks: s => { s.ticks = yearTicks.map(v => ({value: v})); },
        afterFit: s => { s.height = 13; s.paddingLeft = 0; s.paddingRight = 0; },
        grid: {drawOnChartArea: false, tickLength: 2, color: '#999'},
        border: {display: true, color: '#999'},
        ticks: {autoSkip: false, maxRotation: 0, font: {size: 6.5}, color: '#555', padding: 2,
                callback: v => String(v)}
      },
      y: rightAxis(-80.7, 81.6, wtTicks)
    }
  })
});
</script>
</body>
</html>
